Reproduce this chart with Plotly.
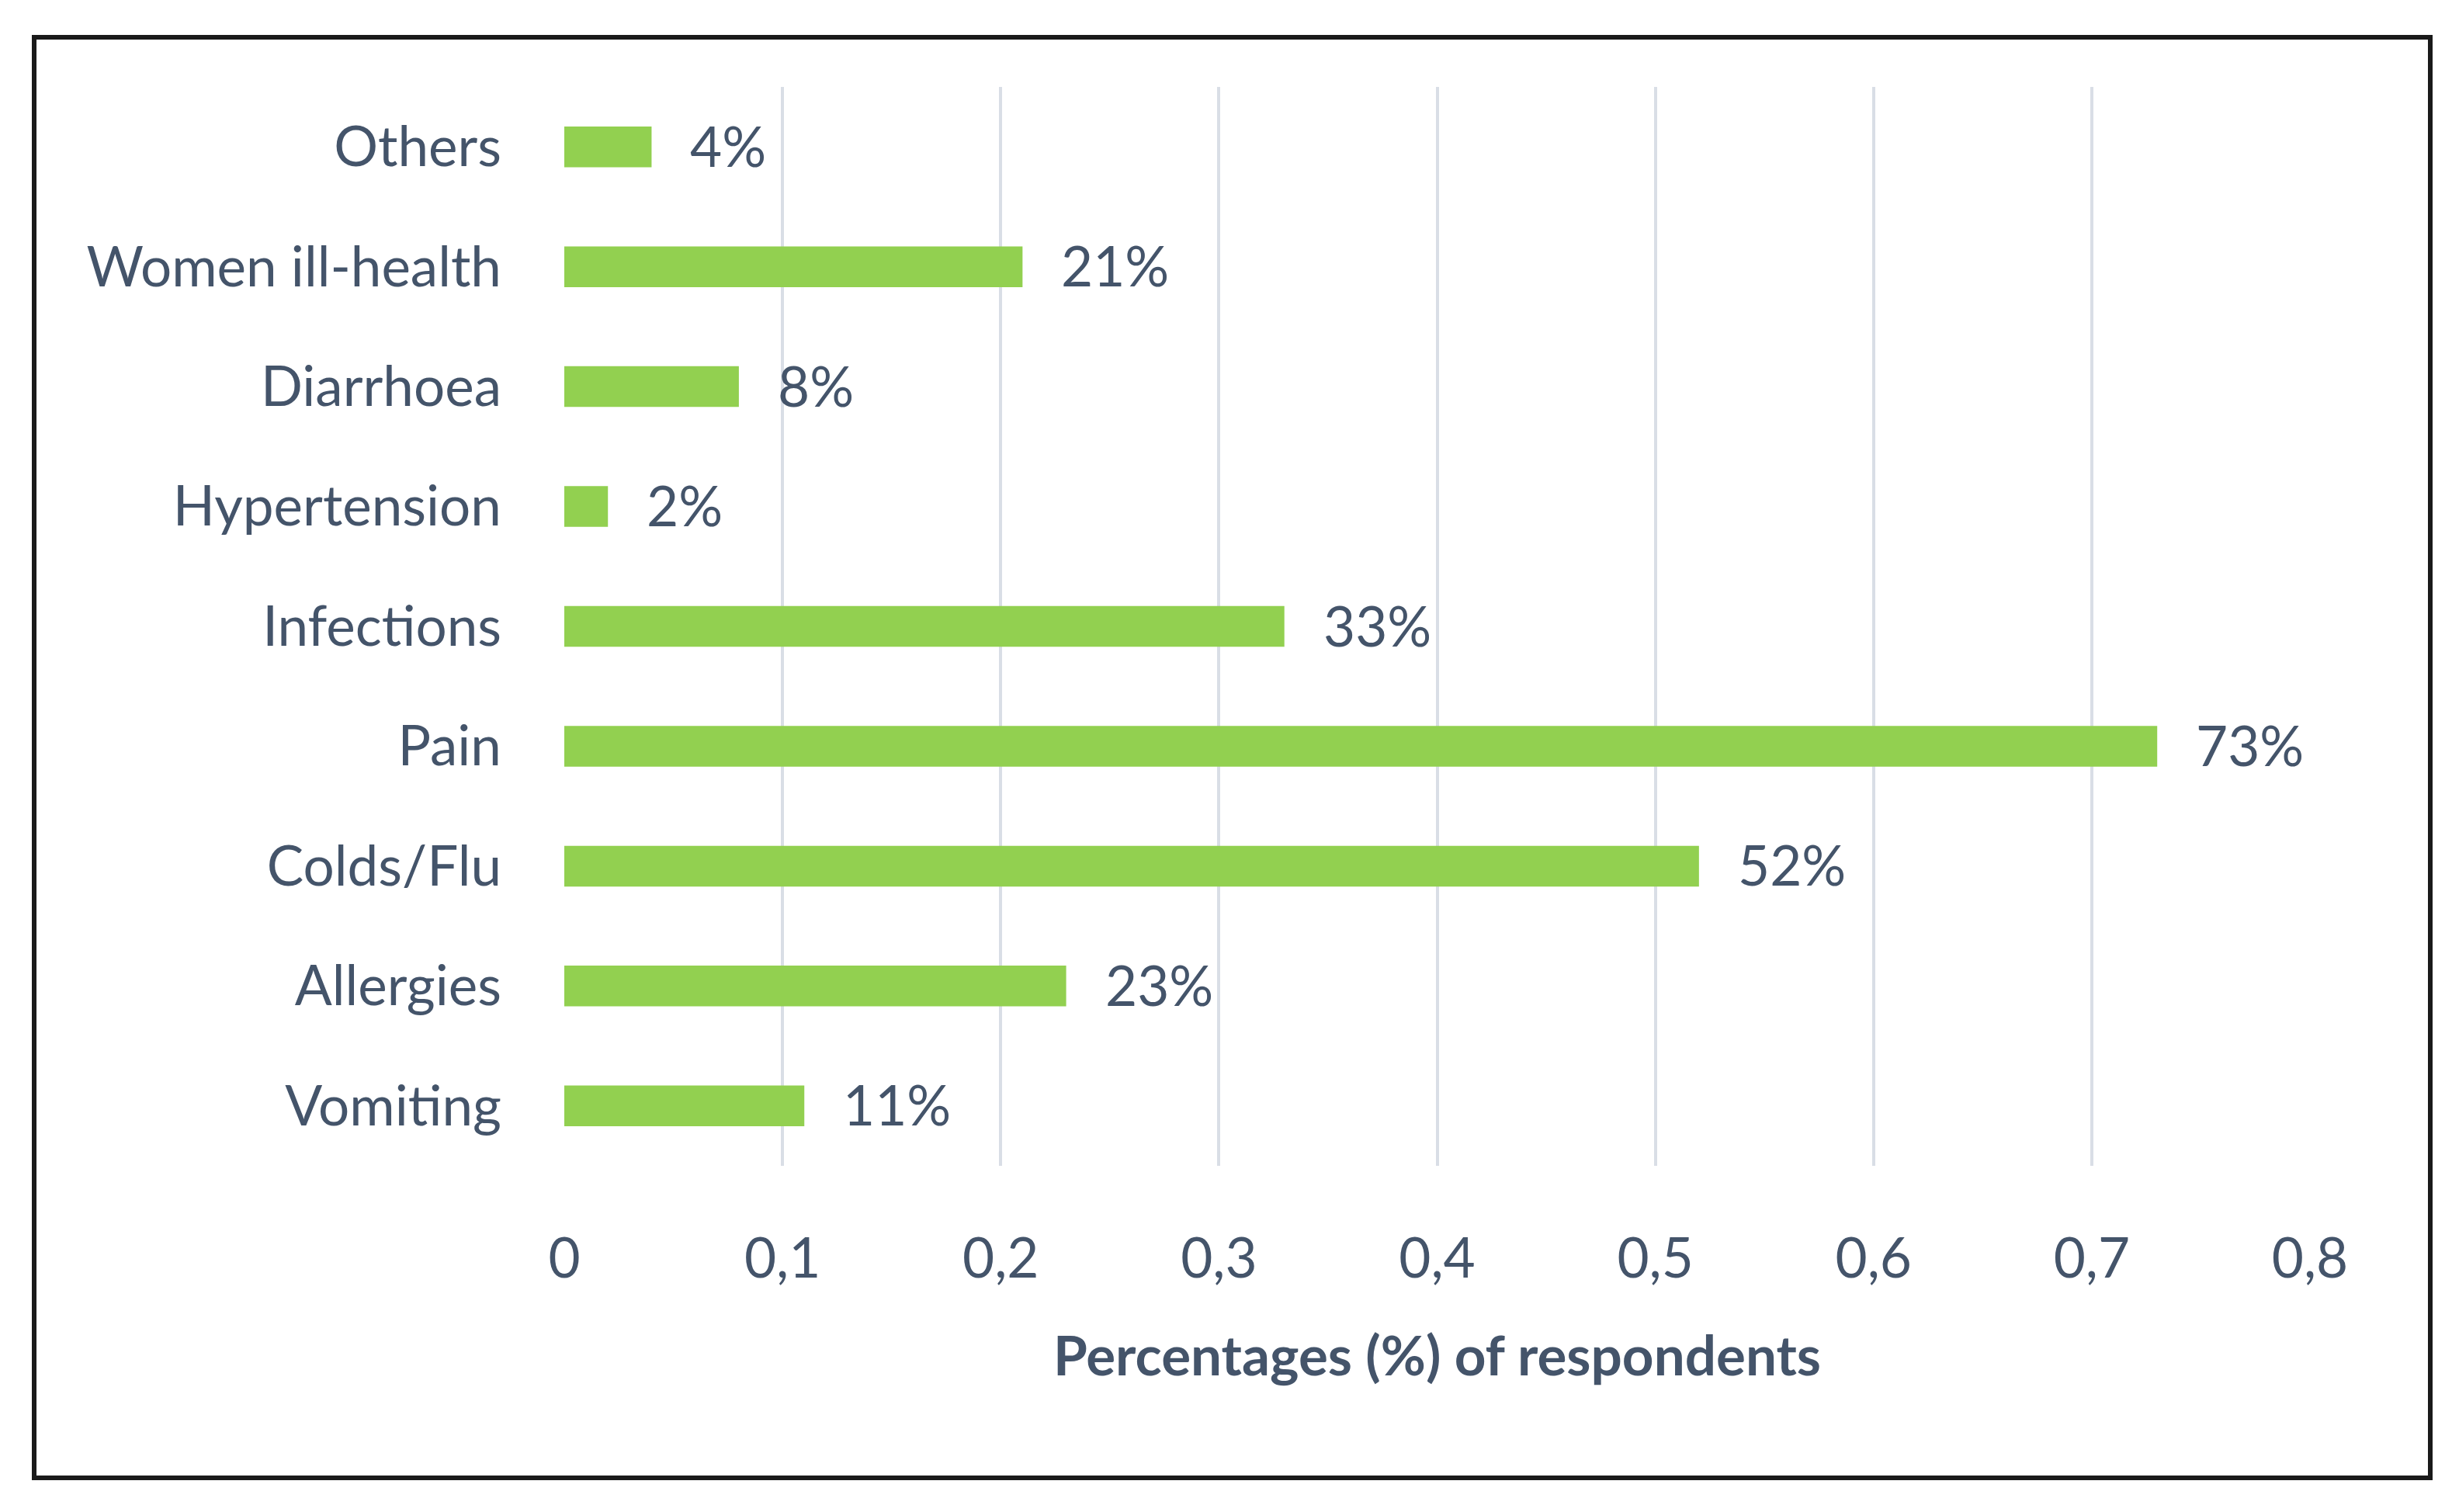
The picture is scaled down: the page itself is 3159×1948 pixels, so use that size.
import plotly.graph_objects as go

categories = ["Vomiting", "Allergies", "Colds/Flu", "Pain", "Infections",
              "Hypertension", "Diarrhoea", "Women ill-health", "Others"]
values = [0.11, 0.23, 0.52, 0.73, 0.33, 0.02, 0.08, 0.21, 0.04]
value_labels = ["11%", "23%", "52%", "73%", "33%", "2%", "8%", "21%", "4%"]
x_tick_vals = [0, 0.1, 0.2, 0.3, 0.4, 0.5, 0.6, 0.7, 0.8]

TEXT = "#44546A"
FONT = "Lato"
FS = 71

W, H = 3159, 1948
L, R, T, B = 719, 191, 104, 454
PW, PH = W - L - R, H - T - B

fig = go.Figure()
fig.add_trace(go.Bar(
    y=categories, x=values, orientation="h",
    marker=dict(color="#92D050", line=dict(width=0)),
    hoverinfo="skip",
))

for c, v, t in zip(categories, values, value_labels):
    fig.add_annotation(x=v, y=c, text=t, showarrow=False, xanchor="left",
                       xshift=48, yshift=2,
                       font=dict(family=FONT, size=FS, color=TEXT))

fig.update_layout(
    width=W, height=H,
    paper_bgcolor="white", plot_bgcolor="white",
    separators=", ",
    bargap=0.66,
    showlegend=False,
    margin=dict(l=L, r=R, t=T, b=B),
    font=dict(family=FONT, size=FS, color=TEXT),
    xaxis=dict(
        range=[0, 0.8], tickvals=x_tick_vals,
        showgrid=True, gridcolor="#D9DEE6", gridwidth=4,
        zeroline=False, showline=False, ticks="",
        ticklabelstandoff=72,
        tickfont=dict(family=FONT, size=FS, color=TEXT),
        title=dict(text="<b>Percentages (%) of respondents</b>",
                   font=dict(family=FONT, size=FS, color=TEXT), standoff=62),
    ),
    yaxis=dict(
        showgrid=False, zeroline=False, showline=False, ticks="",
        ticklabelstandoff=80,
        tickfont=dict(family=FONT, size=FS, color=TEXT),
    ),
    shapes=[dict(type="rect", xref="paper", yref="paper",
                 x0=(36 - L) / PW, x1=(3123 - L) / PW,
                 y0=-(1896 - (H - B)) / PH, y1=((H - B) - 40) / PH,
                 line=dict(color="#1a1a1a", width=6), layer="above")],
)

fig.write_html("out.html")
